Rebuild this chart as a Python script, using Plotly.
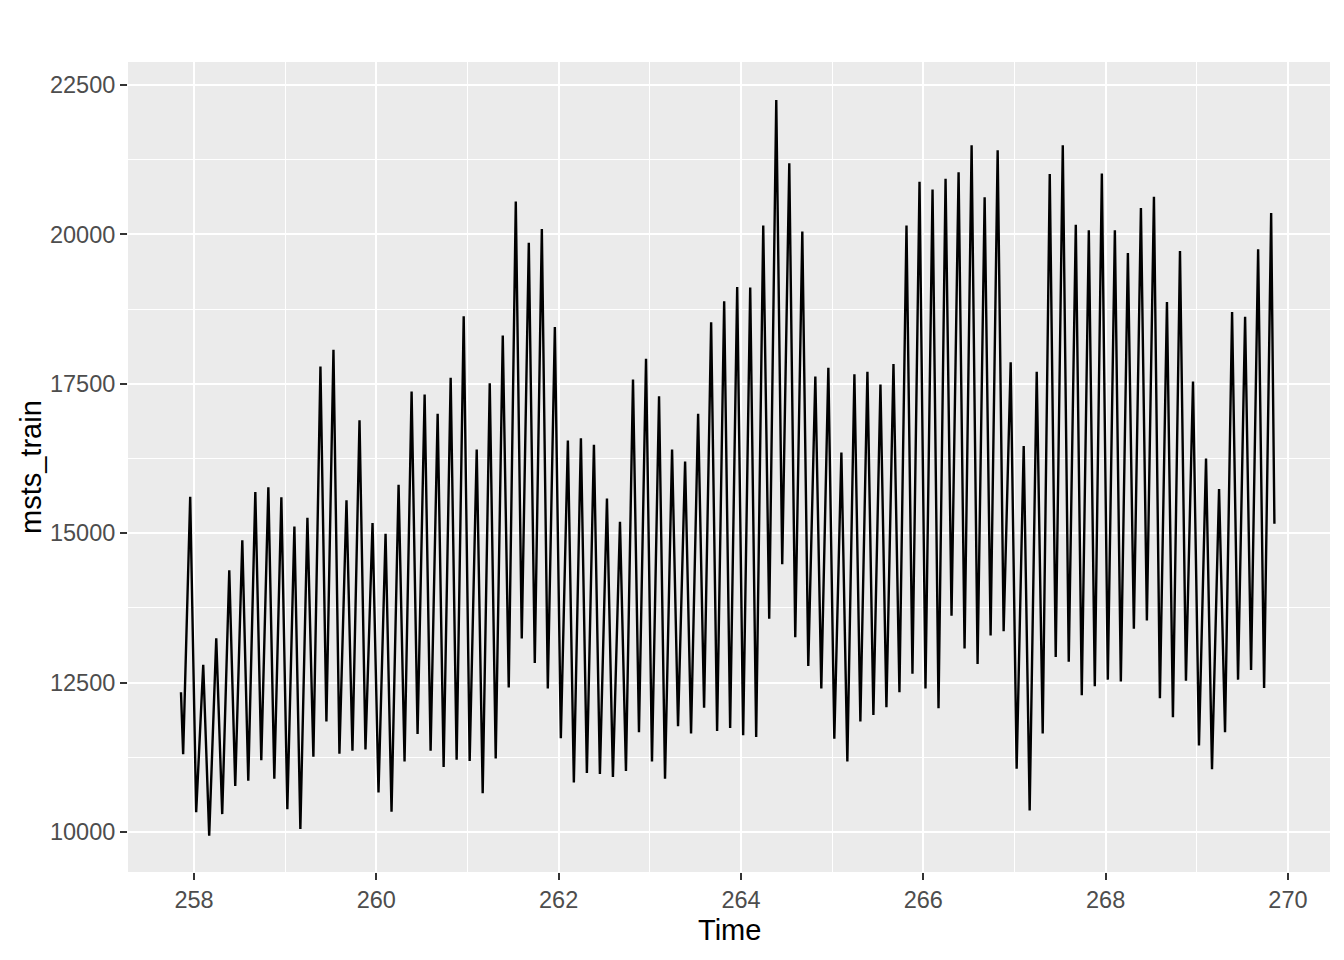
import plotly.graph_objects as go

# ---- data ----
# time is in weeks; hourly series (168 obs per week), one trough and one peak per day
start_week = 257 + 6 / 7
hours_per_week = 168
trough_hour = 4
peak_hour = 17
n_days = 84

first_value = 12340
last_value = 15160

troughs = [
    11300, 10330, 9940, 10300, 10770, 10860, 11200, 10890, 10380, 10050, 11260, 11850, 11310, 11360,
    11380, 10660, 10340, 11180, 11640, 11360, 11090, 11210, 11190, 10650, 11230, 12420, 13240, 12830,
    12400, 11570, 10830, 10990, 10970, 10920, 11020, 11670, 11180, 10890, 11770, 11650, 12080, 11690,
    11740, 11620, 11590, 13570, 14480, 13260, 12780, 12400, 11560, 11180, 11850, 11960, 12090, 12340,
    12650, 12400, 12070, 13620, 13070, 12810, 13290, 13360, 11060, 10360, 11650, 12930, 12850, 12290,
    12440, 12550, 12520, 13400, 13540, 12240, 11920, 12530, 11450, 11050, 11670, 12550, 12710, 12410,
]

peaks = [
    15610, 12800, 13240, 14380, 14880, 15690, 15770, 15600, 15110, 15260, 17790, 18070, 15550, 16890,
    15170, 14990, 15810, 17370, 17320, 17000, 17600, 18630, 16400, 17510, 18310, 20550, 19860, 20090,
    18450, 16550, 16590, 16480, 15580, 15190, 17570, 17920, 17290, 16400, 16200, 17000, 18530, 18880,
    19120, 19110, 20150, 22250, 21190, 20050, 17620, 17770, 16350, 17660, 17700, 17490, 17830, 20150,
    20880, 20750, 20930, 21040, 21490, 20620, 21410, 17860, 16460, 17700, 21010, 21490, 20160, 20070,
    21020, 20070, 19690, 20440, 20630, 18870, 19720, 17540, 16250, 15740, 18700, 18620, 19750, 20360,
]

x_ticks = [258, 260, 262, 264, 266, 268, 270]
x_minor = [257, 259, 261, 263, 265, 267, 269]
y_ticks = [10000, 12500, 15000, 17500, 20000, 22500]
y_minor = [11250, 13750, 16250, 18750, 21250]

# ---- build the series ----
t = [start_week]
v = [first_value]
for d, (lo, hi) in enumerate(zip(troughs, peaks)):
    t.append(start_week + (d * 24 + trough_hour) / hours_per_week)
    v.append(lo)
    t.append(start_week + (d * 24 + peak_hour) / hours_per_week)
    v.append(hi)
t.append(start_week + (n_days * 24 - 1) / hours_per_week)
v.append(last_value)

FONT = "Liberation Sans, Arial, sans-serif"

fig = go.Figure()
fig.add_trace(go.Scatter(x=t, y=v, mode="lines",
                         line=dict(color="black", width=2.4),
                         showlegend=False, hoverinfo="x+y"))

axis_common = dict(
    showgrid=True, gridcolor="white", gridwidth=2.2,
    zeroline=False, showline=False,
    ticks="outside", ticklen=7, tickwidth=2, tickcolor="#333333",
    tickfont=dict(family=FONT, size=23.5, color="#4D4D4D"),
)

fig.update_xaxes(range=[257.276, 270.461], tickmode="array", tickvals=x_ticks,
                 ticktext=[str(x) for x in x_ticks],
                 minor=dict(showgrid=True, gridcolor="white", gridwidth=1.1,
                            tickmode="array", tickvals=x_minor),
                 **axis_common)
fig.update_yaxes(range=[9331, 22885], tickmode="array", tickvals=y_ticks,
                 ticktext=[str(y) for y in y_ticks],
                 minor=dict(showgrid=True, gridcolor="white", gridwidth=1.1,
                            tickmode="array", tickvals=y_minor),
                 **axis_common)

# the page body has an 8px margin, so the figure is sized/margined to compensate
fig.update_layout(
    width=1336, height=952,
    margin=dict(l=120, r=14, t=54, b=88),
    paper_bgcolor="white", plot_bgcolor="#EBEBEB",
    font=dict(family=FONT),
    annotations=[
        dict(text="Time", xref="paper", yref="paper", x=0.5, y=(872 - 930) / 810,
             xanchor="center", yanchor="middle", showarrow=False,
             font=dict(family=FONT, size=29, color="black")),
        dict(text="msts_train", xref="paper", yref="paper", x=(31 - 128) / 1202, y=0.5,
             xanchor="center", yanchor="middle", textangle=-90, showarrow=False,
             font=dict(family=FONT, size=29, color="black")),
    ],
)

fig.write_html("out.html")
